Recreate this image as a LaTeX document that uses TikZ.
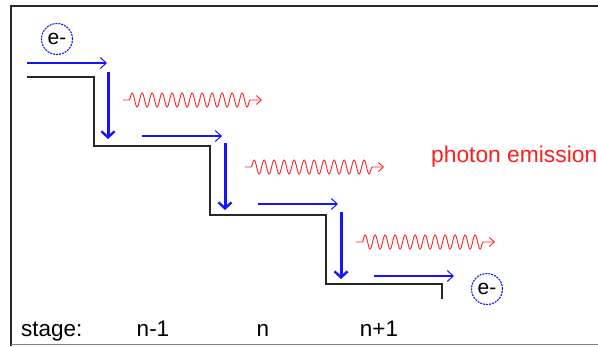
\documentclass[tikz,border=0pt]{standalone}
\usepackage{fontspec}
\setmainfont{Liberation Sans}
\usetikzlibrary{arrows.meta,decorations.pathmorphing}
\definecolor{eblue}{RGB}{20,20,255}
\definecolor{phred}{RGB}{255,30,30}
\definecolor{stairgray}{RGB}{40,40,40}
\begin{document}
\begin{tikzpicture}[x=1pt,y=-1pt,
  frame/.style={line width=1.6pt,draw=stairgray},
  stair/.style={line width=1.6pt,draw=stairgray},
  drift/.style={line width=1.3pt,draw=eblue,-{Straight Barb[length=6pt,width=11pt,line width=1pt]}},
  drop/.style={line width=3pt,draw=eblue,-{Straight Barb[length=6pt,width=13pt,line width=2.4pt]}},
  photon/.style={line width=0.9pt,draw=phred,
    -{Straight Barb[length=5pt,width=9pt,line width=0.9pt]},
    decorate,decoration={snake,segment length=10pt,amplitude=7pt,pre length=6pt,post length=7pt}},
  electron/.style={circle,draw=eblue,line width=1.1pt,dash pattern=on 2pt off 1pt,
    minimum size=31pt,inner sep=0pt,font=\fontsize{21}{21}\selectfont},
  lbl/.style={font=\fontsize{22.5}{22.5}\selectfont,inner sep=0pt,anchor=base}
]
% picture area and partial frame
\useasboundingbox (0,0) rectangle (598,346);
\draw[frame] (598,6) -- (11,6) -- (11,346);
\draw[line width=1.4pt,draw=gray] (11,344.5) -- (598,344.5);

% energy staircase
\draw[stair] (27,77) -- (94,77) -- (94,146) -- (210,146) -- (210,215)
  -- (326,215) -- (326,284) -- (442,284) -- (442,299);

% electrons
\node[electron] (ein) at (57,39) {e-};
\node[electron] (eout) at (487,289) {e-};

% horizontal drift of the electron on each step
\coordinate (h1a) at (27,63);  \coordinate (h1b) at (107,63);
\coordinate (h2a) at (142,136); \coordinate (h2b) at (222,136);
\coordinate (h3a) at (258,204); \coordinate (h3b) at (338,204);
\coordinate (h4a) at (374,276); \coordinate (h4b) at (454,276);
\draw[drift] (h1a) -- (h1b);
\draw[drift] (h2a) -- (h2b);
\draw[drift] (h3a) -- (h3b);
\draw[drift] (h4a) -- (h4b);

% drops down each step
\coordinate (v1a) at (108,72);  \coordinate (v1b) at (108,139);
\coordinate (v2a) at (225,143); \coordinate (v2b) at (225,210);
\coordinate (v3a) at (341,212); \coordinate (v3b) at (341,279);
\draw[drop] (v1a) -- (v1b);
\draw[drop] (v2a) -- (v2b);
\draw[drop] (v3a) -- (v3b);

% emitted photons
\coordinate (p1a) at (123,100); \coordinate (p1b) at (262,100);
\coordinate (p2a) at (245,167); \coordinate (p2b) at (384,167);
\coordinate (p3a) at (356,242); \coordinate (p3b) at (495,242);
\draw[photon] (p1a) -- (p1b);
\draw[photon] (p2a) -- (p2b);
\draw[photon] (p3a) -- (p3b);

% labels
\node[lbl,anchor=base west,text=phred,font=\fontsize{22.8}{22.8}\selectfont] (emis) at (431,162) {photon emission};
\node[lbl,anchor=base west] (stage) at (21,336) {stage:};
\node[lbl] (snm) at (153,336) {n-1};
\node[lbl] (sn) at (263,336) {n};
\node[lbl] (snp) at (379,336) {n+1};
\end{tikzpicture}
\end{document}
